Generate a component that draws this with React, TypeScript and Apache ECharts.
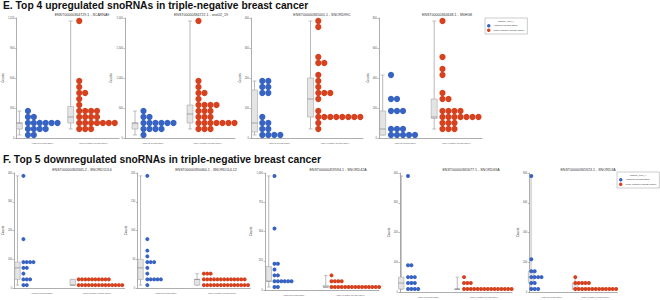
import React, { useEffect, useRef } from 'react';
import * as echarts from 'echarts';

// ---------- text ----------
const titleUp = 'E. Top 4 upregulated snoRNAs in triple-negative breast cancer';
const titleDown = 'F. Top 5 downregulated snoRNAs in triple-negative breast cancer';
const groups = ['Adjacent normal tissue', 'Triple-negative breast cancer'];
const legendTitle = 'sample_type_x';
const yName = 'Counts';

const upGenes = [
  'ENST00000364729.1 - SCARNA9',
  'ENST00000384722.1 - snoU2_19',
  'ENST00000365001.1 - SNORD99C',
  'ENST00000364648.1 - SNHG8',
];
const downGenes = [
  'ENST00000363345.2 - SNORD113-6',
  'ENST00000390460.1 - SNORD114-12',
  'ENST00000459594.1 - SNORD42A',
  'ENST00000365677.1 - SNORD69A',
  'ENST00000365923.1 - SNORD3A',
];

// ---------- y axis ranges ----------
const upMax = [1200, 2000, 400, 800];
const upStep = [300, 500, 100, 200];
const downMax = [400, 200, 1000, 400, 800];
const downStep = [100, 50, 250, 100, 200];

// ---------- values ----------
const up1Normal = [270, 210, 210, 150, 150, 150, 150, 150, 150, 90, 90, 90, 90, 30, 30];
const up1Tnbc = [1170, 570, 510, 450, 450, 390, 330, 270, 270, 270, 270, 210, 210, 210, 210,
  150, 150, 150, 150, 150, 150, 150, 150, 90, 90, 90];
const up2Normal = [450, 350, 350, 250, 250, 250, 250, 250, 250, 150, 150, 150, 150, 50];
const up2Tnbc = [1950, 950, 850, 750, 750, 650, 550, 550, 550, 550, 450, 450, 450, 350, 350, 350,
  250, 250, 250, 250, 250, 250, 250, 150, 150, 150];
const up3Normal = [190, 190, 170, 170, 150, 150, 70, 50, 50, 30, 30, 10, 10, 10, 10];
const up3Tnbc = [390, 370, 270, 250, 250, 210, 190, 170, 150, 150, 150, 130, 90,
  70, 70, 70, 70, 70, 70, 70, 70, 50, 30];
const up4Normal = [420, 260, 260, 180, 180, 180, 60, 60, 60, 20, 20, 20, 20, 20];
const up4Tnbc = [780, 540, 460, 420, 300, 260, 260, 180, 180, 180, 180,
  140, 140, 140, 140, 140, 140, 140, 100, 100, 100, 60, 60, 60];

const down1Normal = [390, 170, 90, 90, 90, 90, 70, 70, 50, 30, 30, 30, 10, 10];
const down1Tnbc = [30, 30, 30, 30, 30, 30, 30, 30, 30, 30,
  10, 10, 10, 10, 10, 10, 10, 10, 10, 10, 10, 10, 10, 10, 10, 10];
const down2Normal = [195, 85, 65, 55, 45, 45, 45, 35, 25, 15, 15, 15, 15, 15, 5];
const down2Tnbc = [25, 25, 25, 15, 15, 15, 15, 15, 15, 15, 15, 15, 15, 15, 15, 15,
  5, 5, 5, 5, 5, 5, 5, 5, 5, 5, 5, 5, 5, 5];
const down3Normal = [975, 525, 225, 225, 175, 125, 125, 75, 75, 75, 75, 75, 75, 25, 25];
const down3Tnbc = [125, 75, 75, 75, 75, 25, 25, 25, 25, 25, 25, 25, 25, 25, 25, 25, 25, 25, 25, 25];
const down4Normal = [390, 90, 90, 50, 50, 50, 30, 30, 30, 10, 10, 10, 10];
const down4Tnbc = [50, 30, 30, 30, 10, 10, 10, 10, 10, 10, 10, 10, 10, 10, 10, 10, 10, 10, 10];
const down5Normal = [780, 220, 140, 140, 100, 100, 100, 100, 60, 60, 20, 20, 20];
const down5Tnbc = [100, 60, 60, 60, 60, 60, 20, 20, 20, 20, 20, 20, 20, 20, 20, 20, 20, 20, 20];

const upData = [
  [up1Normal, up1Tnbc], [up2Normal, up2Tnbc], [up3Normal, up3Tnbc], [up4Normal, up4Tnbc],
];
const downData = [
  [down1Normal, down1Tnbc], [down2Normal, down2Tnbc], [down3Normal, down3Tnbc],
  [down4Normal, down4Tnbc], [down5Normal, down5Tnbc],
];

// ---------- layout (pixels) ----------
const upLayout = [
  { left: 15, width: 104, titleX: 82, boxOff: 0, dotOff: 11.7 },
  { left: 125, width: 110, titleX: 201, boxOff: 7, dotOff: 18.5 },
  { left: 251, width: 112, titleX: 322, boxOff: 0.5, dotOff: 11.3 },
  { left: 379, width: 103, titleX: 447, boxOff: 0.7, dotOff: 12 },
];
const downLayout = [
  { left: 12.7, width: 112, height: 115, titleX: 82, boxOff: 0.5, dotOff: 9.3 },
  { left: 137.3, width: 113, height: 115, titleX: 206, boxOff: 0.5, dotOff: 10 },
  { left: 265, width: 114, height: 117, titleX: 338, boxOff: 1, dotOff: 9.5 },
  { left: 400, width: 112, height: 119, titleX: 471, boxOff: -1.5, dotOff: 8 },
  { left: 529.3, width: 88, height: 119, titleX: 588, boxOff: -1, dotOff: 2 },
];

const COLORS = ['#3763c2', '#d6421f'];
const FONT = '"Liberation Sans", Arial, sans-serif';

function quantile(sorted: number[], q: number) {
  const pos = (sorted.length - 1) * q;
  const lo = Math.floor(pos);
  const hi = Math.ceil(pos);
  return sorted[lo] + (sorted[hi] - sorted[lo]) * (pos - lo);
}
function boxStats(values: number[]) {
  const s = [...values].sort((a, b) => a - b);
  return [s[0], quantile(s, 0.25), quantile(s, 0.5), quantile(s, 0.75), s[s.length - 1]];
}
function swarm(values: number[], cat: number, dotOff: number, dx: number, bandPx: number) {
  const counts: Record<string, number> = {};
  return values.map((v) => {
    const k = counts[v] || 0;
    counts[v] = k + 1;
    return [cat + (dotOff + k * dx) / bandPx, v];
  });
}

function buildOption() {
  const grid: any[] = [];
  const xAxis: any[] = [];
  const yAxis: any[] = [];
  const series: any[] = [];
  const graphic: any[] = [];

  const panels: any[] = [];
  upLayout.forEach((l, i) =>
    panels.push({ ...l, top: 18, height: 120, max: upMax[i], step: upStep[i], data: upData[i],
      gene: upGenes[i], titleY: 15, size: 6.2, dx: 6, boxW: 6, nameGap: 7 }));
  downLayout.forEach((l, i) =>
    panels.push({ ...l, top: 173, max: downMax[i], step: downStep[i], data: downData[i],
      gene: downGenes[i], titleY: 170, size: 4, dx: 3.4, boxW: 5.5, nameGap: 8 }));

  panels.forEach((p, i) => {
    grid.push({ left: p.left, top: p.top, width: p.width, height: p.height });
    xAxis.push({
      type: 'category', gridIndex: i, data: groups, offset: 3,
      axisLine: { lineStyle: { color: '#777', width: 0.6 } },
      axisTick: { length: 1.5, lineStyle: { color: '#777', width: 0.5 } },
      axisLabel: { fontSize: 2.2, color: '#555', margin: 1.5, fontFamily: FONT },
    });
    xAxis.push({ type: 'value', gridIndex: i, min: 0, max: 2, show: false });
    yAxis.push({
      type: 'value', gridIndex: i, min: 0, max: p.max, interval: p.step,
      name: yName, nameLocation: 'middle', nameGap: p.nameGap,
      nameTextStyle: { fontSize: 3, color: '#333', fontFamily: FONT },
      axisLine: { show: true, lineStyle: { color: '#777', width: 0.6 } },
      axisTick: { show: true, length: 1.5, lineStyle: { color: '#777', width: 0.5 } },
      axisLabel: { fontSize: 2.6, color: '#555', margin: 2, fontFamily: FONT },
      splitLine: { show: false },
    });
    const bandPx = p.width / 2;
    const boxOff = p.boxOff, boxW = p.boxW;
    series.push({
      type: 'custom', xAxisIndex: 2 * i + 1, yAxisIndex: i, silent: true, z: 2,
      data: p.data.map((vals: number[], g: number) => [g, ...boxStats(vals)]),
      renderItem: (params: any, api: any) => {
        const cat = api.value(0);
        const x0 = api.coord([cat, 0])[0] + boxOff;
        const xc = x0 + boxW / 2;
        const yMin = api.coord([cat, api.value(1)])[1];
        const yQ1 = api.coord([cat, api.value(2)])[1];
        const yMed = api.coord([cat, api.value(3)])[1];
        const yQ3 = api.coord([cat, api.value(4)])[1];
        const yMax = api.coord([cat, api.value(5)])[1];
        return {
          type: 'group',
          children: [
            { type: 'line', shape: { x1: xc, y1: yMin, x2: xc, y2: yMax },
              style: { stroke: '#8a8a8a', lineWidth: 0.6 } },
            { type: 'line', shape: { x1: x0 + 1, y1: yMax, x2: x0 + boxW - 1, y2: yMax },
              style: { stroke: '#8a8a8a', lineWidth: 0.5 } },
            { type: 'line', shape: { x1: x0 + 1, y1: yMin, x2: x0 + boxW - 1, y2: yMin },
              style: { stroke: '#8a8a8a', lineWidth: 0.5 } },
            { type: 'rect', shape: { x: x0, y: yQ3, width: boxW, height: Math.max(yQ1 - yQ3, 0.5) },
              style: { fill: '#e4e4e4', stroke: '#9a9a9a', lineWidth: 0.5 } },
            { type: 'line', shape: { x1: x0, y1: yMed, x2: x0 + boxW, y2: yMed },
              style: { stroke: '#666', lineWidth: 0.5 } },
          ],
        };
      },
    });
    p.data.forEach((vals: number[], g: number) => {
      series.push({
        type: 'scatter', name: groups[g], xAxisIndex: 2 * i + 1, yAxisIndex: i, z: 3,
        symbolSize: p.size, itemStyle: { color: COLORS[g], opacity: 1 },
        data: swarm(vals, g, p.dotOff, p.dx, bandPx),
      });
    });
    graphic.push({
      type: 'text', x: p.titleX, y: p.titleY, silent: true,
      style: { text: p.gene, fontSize: 3.6, fill: '#333', align: 'center', verticalAlign: 'middle', fontFamily: FONT },
    });
  });

  const legendBase = {
    data: groups, orient: 'vertical', itemWidth: 3.5, itemHeight: 3.5, itemGap: 1,
    icon: 'circle', selectedMode: false, padding: [6, 3, 2, 2],
    borderColor: '#999', borderWidth: 0.5,
    textStyle: { fontSize: 2.4, color: '#333', padding: [0, 0, 0, -2], fontFamily: FONT },
  };
  graphic.push({ type: 'text', x: 506, y: 21, silent: true,
    style: { text: legendTitle, fontSize: 2.4, fill: '#333', align: 'center', verticalAlign: 'middle', fontFamily: FONT } });
  graphic.push({ type: 'text', x: 638, y: 175, silent: true,
    style: { text: legendTitle, fontSize: 2.4, fill: '#333', align: 'center', verticalAlign: 'middle', fontFamily: FONT } });

  return {
    animation: false,
    textStyle: { fontFamily: FONT },
    title: [
      { text: titleUp, left: 3, top: 0.5, padding: 0,
        textStyle: { fontSize: 10.3, fontWeight: 'bold', color: '#111', fontFamily: FONT } },
      { text: titleDown, left: 3, top: 154.5, padding: 0,
        textStyle: { fontSize: 10.3, fontWeight: 'bold', color: '#111', fontFamily: FONT } },
    ],
    legend: [
      { ...legendBase, left: 485, top: 18 },
      { ...legendBase, left: 617, top: 172 },
    ],
    grid, xAxis, yAxis, series, graphic,
  };
}

export default function App() {
  const ref = useRef<HTMLDivElement>(null);
  useEffect(() => {
    if (!ref.current) return;
    const chart = echarts.init(ref.current, undefined, { renderer: 'svg' });
    chart.setOption(buildOption() as any);
    return () => chart.dispose();
  }, []);
  return (
    <div
      ref={ref}
      style={{ position: 'fixed', left: 0, top: 0, width: 660, height: 300, background: '#fff' }}
    />
  );
}
